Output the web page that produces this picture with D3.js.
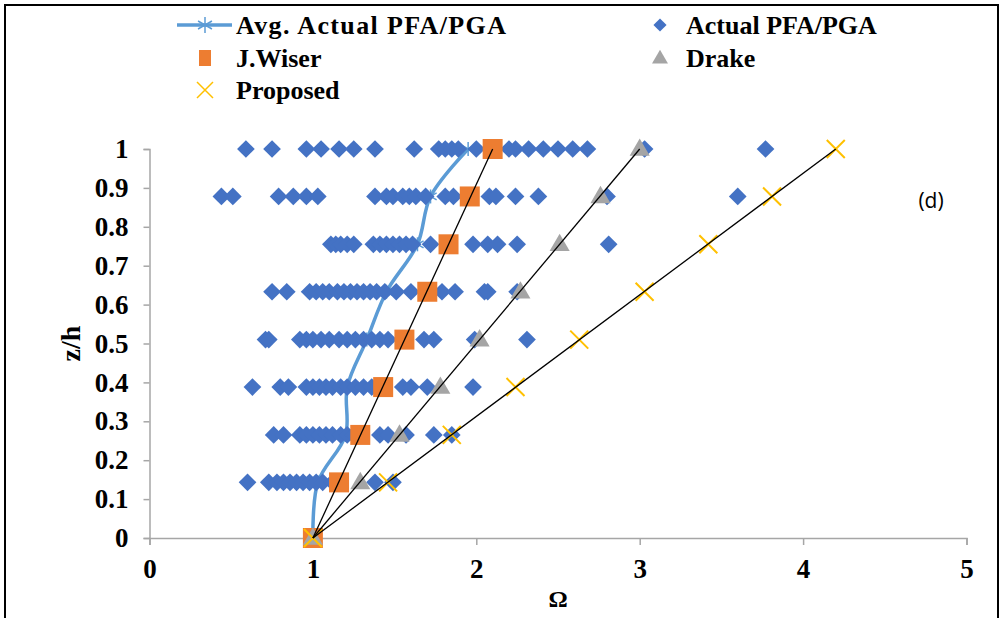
<!DOCTYPE html>
<html>
<head>
<meta charset="utf-8">
<script src="https://cdn.jsdelivr.net/npm/d3@7"></script>
<style>
  html, body { margin: 0; padding: 0; background: #fff; }
  svg { display: block; }
  .serif { font-family: "Liberation Serif", "Times New Roman", serif; font-weight: bold; }
</style>
</head>
<body>
<svg id="chart" width="1002" height="618"></svg>
<script>
// z/h levels of the floors (0 = ground)
const zLevels = [0, 0.143, 0.265, 0.388, 0.510, 0.633, 0.755, 0.878, 1.0];

// Actual PFA/PGA per floor (z/h > 0), one list per level
const actualLevels = [0.143, 0.265, 0.388, 0.510, 0.633, 0.755, 0.878, 1.0];
const actualValues = [
  [0.60, 0.73, 0.78, 0.82, 0.86, 0.90, 0.94, 0.98, 1.02, 1.06, 1.12, 1.38, 1.49],
  [0.76, 0.82, 0.92, 0.96, 1.00, 1.04, 1.08, 1.12, 1.17, 1.21, 1.25, 1.41, 1.46, 1.57, 1.74, 1.85],
  [0.63, 0.80, 0.85, 0.96, 1.00, 1.04, 1.08, 1.12, 1.17, 1.21, 1.26, 1.31, 1.36, 1.43, 1.55, 1.60, 1.70, 1.98],
  [0.71, 0.73, 0.92, 0.96, 1.00, 1.05, 1.10, 1.16, 1.21, 1.26, 1.31, 1.36, 1.41, 1.46, 1.56, 1.68, 1.74, 1.99, 2.31],
  [0.75, 0.84, 0.98, 1.02, 1.06, 1.10, 1.15, 1.19, 1.23, 1.27, 1.31, 1.35, 1.39, 1.44, 1.51, 1.60, 1.70, 1.79, 1.87, 2.05, 2.07, 2.25],
  [1.11, 1.14, 1.17, 1.21, 1.25, 1.37, 1.41, 1.45, 1.49, 1.53, 1.57, 1.61, 1.72, 1.83, 1.98, 2.07, 2.13, 2.25, 2.81],
  [0.44, 0.51, 0.79, 0.88, 0.96, 1.03, 1.38, 1.45, 1.49, 1.55, 1.59, 1.63, 1.69, 1.81, 1.86, 1.96, 2.08, 2.12, 2.24, 2.38, 2.80, 3.60],
  [0.59, 0.75, 0.96, 1.05, 1.16, 1.25, 1.38, 1.62, 1.77, 1.81, 1.85, 1.89, 2.00, 2.10, 2.20, 2.24, 2.32, 2.41, 2.50, 2.59, 2.68, 3.03, 3.77],
];

// series along zLevels
const avgValues      = [1.00, 1.03, 1.20, 1.21, 1.33, 1.45, 1.64, 1.72, 1.95];
const wiserValues    = [1.00, 1.16, 1.29, 1.43, 1.56, 1.70, 1.83, 1.96, 2.10];
const drakeValues    = [1.00, 1.29, 1.53, 1.78, 2.02, 2.27, 2.51, 2.76, 3.00];
const proposedValues = [1.00, 1.46, 1.85, 2.24, 2.63, 3.03, 3.42, 3.81, 4.20];

// black guide lines from (1, 0) to the top value of each method
const guideTops = [2.10, 3.00, 4.20];

const xTicks = [0, 1, 2, 3, 4, 5];
const yTicks = [0, 0.1, 0.2, 0.3, 0.4, 0.5, 0.6, 0.7, 0.8, 0.9, 1];

const C = {
  avg: '#5B9BD5', actual: '#4472C4', wiser: '#ED7D31', drake: '#A5A5A5', proposed: '#FFC000',
  axis: '#A6A6A6',
};

const svg = d3.select('#chart');
const x = d3.scaleLinear().domain([0, 5]).range([149.5, 966.5]);
const y = d3.scaleLinear().domain([0, 1]).range([538, 149]);

// outer frame
svg.append('rect').attr('x', 5).attr('y', 5).attr('width', 993).attr('height', 700)
  .attr('fill', 'none').attr('stroke', '#000').attr('stroke-width', 2);

// axes
const fs = 27;
const yAxis = svg.append('g').attr('transform', `translate(${x(0)},0)`)
  .call(d3.axisLeft(y).tickValues(yTicks).tickSize(6).tickPadding(15).tickFormat(d3.format('')));
const xAxis = svg.append('g').attr('transform', `translate(0,${y(0)})`)
  .call(d3.axisBottom(x).tickValues(xTicks).tickSize(7).tickPadding(14).tickFormat(d3.format('d')));
[xAxis, yAxis].forEach(g => {
  g.selectAll('path, line').attr('stroke', C.axis).attr('stroke-width', 1.5);
  g.selectAll('text').attr('class', 'serif').attr('font-size', fs).attr('fill', '#000');
});

// axis titles
svg.append('text').attr('class', 'serif').attr('font-size', 28)
  .attr('transform', `translate(80, ${(y(0) + y(1)) / 2}) rotate(-90)`)
  .attr('text-anchor', 'middle').text('z/h');
svg.append('text').attr('class', 'serif').attr('font-size', 24)
  .attr('x', (x(0) + x(5)) / 2).attr('y', 607).attr('text-anchor', 'middle').text('Ω');

// marker painters
function asterisk(g, cx, cy, r, color) {
  [[0, -r, 0, r], [-r * 0.87, -r * 0.5, r * 0.87, r * 0.5], [-r * 0.87, r * 0.5, r * 0.87, -r * 0.5]]
    .forEach(([a, b, c, d]) => g.append('line')
      .attr('x1', cx + a).attr('y1', cy + b).attr('x2', cx + c).attr('y2', cy + d)
      .attr('stroke', color).attr('stroke-width', 1.5));
}
const diamondPath = d3.symbol().type(d3.symbolDiamond2).size(200);
const trianglePath = d3.symbol().type(d3.symbolTriangle).size(175);

function drawCross(g, cx, cy, r, color, w) {
  g.append('path').attr('d', `M${cx - r},${cy - r}L${cx + r},${cy + r}M${cx - r},${cy + r}L${cx + r},${cy - r}`)
    .attr('stroke', color).attr('stroke-width', w).attr('fill', 'none');
}

const plot = svg.append('g');

// average line (drawn beneath the scatter points)
const avgPts = zLevels.map((z, i) => [x(avgValues[i]), y(z)]);
plot.append('path').datum(avgPts)
  .attr('d', d3.line().curve(d3.curveCatmullRom.alpha(0.5)))
  .attr('fill', 'none').attr('stroke', C.avg).attr('stroke-width', 3.5);
avgPts.forEach(([px, py]) => asterisk(plot, px, py, 7, C.avg));

// actual points
const actualPts = actualLevels.flatMap((z, i) => actualValues[i].map(v => ({ z, v })));
plot.append('g').selectAll('path').data(actualPts).join('path')
  .attr('transform', d => `translate(${x(d.v)},${y(d.z)})`)
  .attr('d', diamondPath).attr('fill', C.actual);

// J.Wiser squares
plot.append('g').selectAll('rect').data(zLevels).join('rect')
  .attr('x', (z, i) => x(wiserValues[i]) - 10).attr('y', z => y(z) - 10)
  .attr('width', 20).attr('height', 20).attr('fill', C.wiser);

// Drake triangles
plot.append('g').selectAll('path').data(zLevels).join('path')
  .attr('transform', (z, i) => `translate(${x(drakeValues[i])},${y(z) + 1})`)
  .attr('d', trianglePath).attr('fill', C.drake);

// Proposed crosses
zLevels.forEach((z, i) => drawCross(plot, x(proposedValues[i]), y(z), 9, C.proposed, 2));

// black guide lines
plot.append('g').selectAll('line').data(guideTops).join('line')
  .attr('x1', x(1)).attr('y1', y(0)).attr('x2', d => x(d)).attr('y2', y(1))
  .attr('stroke', '#000').attr('stroke-width', 1.3);

// panel tag
svg.append('text').attr('x', 931).attr('y', 208).attr('text-anchor', 'middle')
  .attr('font-family', '"Open Sans", "Liberation Sans", sans-serif').attr('font-size', 21)
  .text('(d)');

// legend
const legend = svg.append('g');
const lfs = 26;
function legendText(tx, ty, label, len) {
  const t = legend.append('text').attr('class', 'serif').attr('font-size', lfs)
    .attr('x', tx).attr('y', ty).attr('dominant-baseline', 'central').text(label);
  if (len) t.attr('textLength', len).attr('lengthAdjust', 'spacing');
}
const rowY = [25, 58, 90];
legend.append('line').attr('x1', 177).attr('x2', 232).attr('y1', rowY[0]).attr('y2', rowY[0])
  .attr('stroke', C.avg).attr('stroke-width', 3.5);
asterisk(legend, 205, rowY[0], 8, C.avg);
legendText(236, rowY[0], 'Avg. Actual PFA/PGA', 270);

legend.append('path').attr('transform', `translate(660,${rowY[0]})`)
  .attr('d', d3.symbol().type(d3.symbolDiamond2).size(110)).attr('fill', C.actual);
legendText(686, rowY[0], 'Actual PFA/PGA');

legend.append('rect').attr('x', 199).attr('y', rowY[1] - 8).attr('width', 12).attr('height', 16)
  .attr('fill', C.wiser);
legendText(236, rowY[1], 'J.Wiser');

legend.append('path').attr('transform', `translate(660,${rowY[1] + 1})`)
  .attr('d', d3.symbol().type(d3.symbolTriangle).size(110)).attr('fill', C.drake);
legendText(686, rowY[1], 'Drake');

drawCross(legend, 205, rowY[2], 8, C.proposed, 1.5);
legendText(236, rowY[2], 'Proposed');
</script>
</body>
</html>
